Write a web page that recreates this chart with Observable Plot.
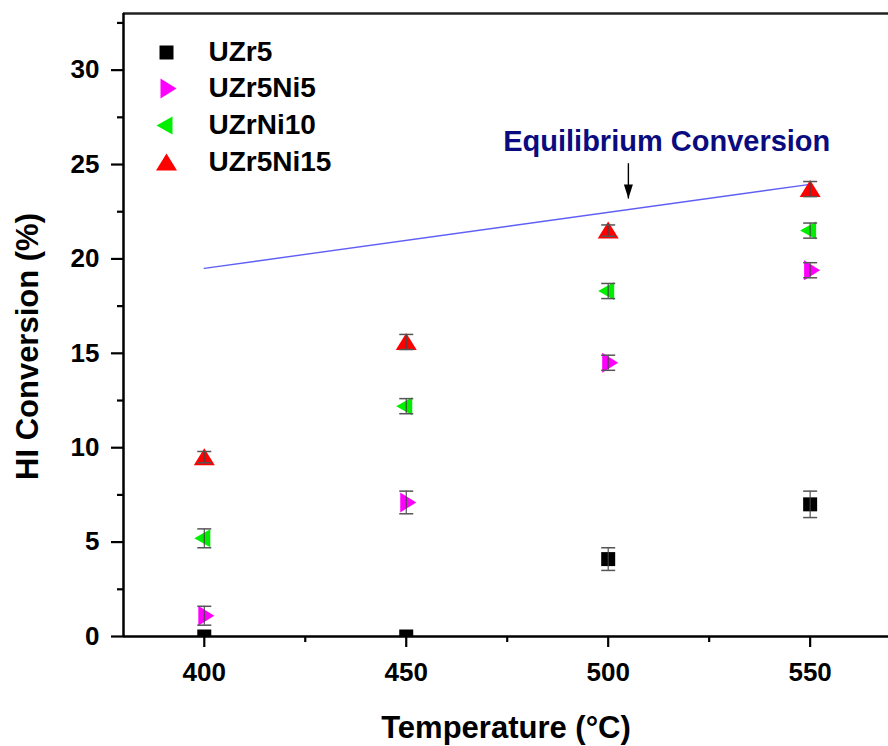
<!DOCTYPE html>
<html>
<head>
<meta charset="utf-8">
<script src="https://cdn.jsdelivr.net/npm/d3@7"></script>
<script src="https://cdn.jsdelivr.net/npm/@observablehq/plot@0.6"></script>
<style>
  html, body { margin: 0; padding: 0; background: white; }
</style>
</head>
<body>
<div id="chart"></div>
<script>
// ---- data ----
const temps = [400, 450, 500, 550];
const seriesNames = ["UZr5", "UZr5Ni5", "UZrNi10", "UZr5Ni15"];
const uzr5 = [0, 0, 4.1, 7.0];
const uzr5Err = [0, 0, 0.6, 0.7];
const uzr5ni5 = [1.1, 7.1, 14.5, 19.4];
const uzr5ni5Err = [0.5, 0.6, 0.4, 0.4];
const uzrni10 = [5.2, 12.2, 18.3, 21.5];
const uzrni10Err = [0.5, 0.4, 0.4, 0.4];
const uzr5ni15 = [9.5, 15.6, 21.5, 23.7];
const uzr5ni15Err = [0.3, 0.4, 0.3, 0.4];
const eqTemps = [400, 550];
const eqValues = [19.5, 23.95];
const eqLabel = "Equilibrium Conversion";
const eqLabelPos = {x: 514.5, y: 25.7};
const eqArrow = {x: 505, y1: 25.07, y2: 23.2};
const xTicks = [400, 450, 500, 550];
const xMinorTicks = [425, 475, 525];
const yTicks = [0, 5, 10, 15, 20, 25, 30];
const yMinorTicks = [2.5, 7.5, 12.5, 17.5, 22.5, 27.5, 32.5];
const xLabel = "Temperature (°C)";
const yLabel = "HI Conversion (%)";

// ---- symbols ----
const sqSym = {draw(c) { c.rect(-7, -7, 14, 14); }};
const rightSym = {draw(c) { c.moveTo(-6, -10); c.lineTo(10, 0); c.lineTo(-6, 10); c.closePath(); }};
const leftSym = {draw(c) { c.moveTo(6, -9); c.lineTo(-10, 0); c.lineTo(6, 9); c.closePath(); }};
const upSym = {draw(c) { c.moveTo(0, -9); c.lineTo(10.5, 8); c.lineTo(-10.5, 8); c.closePath(); }};
const capSym = {draw(c) { c.moveTo(-7, 0); c.lineTo(7, 0); }};
const headSym = {draw(c) { c.moveTo(-4.5, -14); c.lineTo(4.5, -14); c.lineTo(0, 0); c.closePath(); }};

const valuesList = [uzr5, uzr5ni5, uzrni10, uzr5ni15];
const errList = [uzr5Err, uzr5ni5Err, uzrni10Err, uzr5ni15Err];
const symbols = [sqSym, rightSym, leftSym, upSym];
const fills = ["#000000", "#ff00ff", "#00ee00", "#ff0000"];

const series = seriesNames.map((name, i) => ({
  name, symbol: symbols[i], fill: fills[i],
  rows: temps.map((t, j) => ({t, v: valuesList[i][j], e: errList[i][j]}))
}));

const eqRows = eqTemps.map((t, i) => ({t, v: eqValues[i]}));

const marks = [];

// equilibrium line
marks.push(Plot.line(eqRows, {x: "t", y: "v", stroke: "#5f5ff5", strokeWidth: 1.4}));

// series markers
series.forEach((s, i) => {
  marks.push(Plot.dot(s.rows, {x: "t", y: "v", symbol: s.symbol, fill: s.fill, stroke: "none", clip: i === 0}));
});
// error bars
series.forEach((s) => {
  const er = s.rows.filter(d => d.e > 0);
  marks.push(Plot.ruleX(er, {x: "t", y1: d => d.v - d.e, y2: d => d.v + d.e, stroke: "#444", strokeWidth: 1.1}));
  marks.push(Plot.dot(er, {x: "t", y: d => d.v + d.e, symbol: capSym, stroke: "#555", strokeWidth: 1.5}));
  marks.push(Plot.dot(er, {x: "t", y: d => d.v - d.e, symbol: capSym, stroke: "#555", strokeWidth: 1.5}));
});

// annotation
marks.push(Plot.text([eqLabel], {x: () => eqLabelPos.x, y: () => eqLabelPos.y, text: d => d, fill: "#0b0b80",
  fontSize: 29, fontWeight: "bold", textAnchor: "middle", lineAnchor: "bottom"}));
marks.push(Plot.link([eqArrow], {x1: "x", x2: "x", y1: "y1", y2: "y2", stroke: "black", strokeWidth: 1.4}));
marks.push(Plot.dot([eqArrow], {x: "x", y: "y2", symbol: headSym, fill: "black", stroke: "none"}));

// legend
const legendRowsDy = [39, 75, 112, 149];
series.forEach((s, i) => {
  marks.push(Plot.dot([s.name], {frameAnchor: "top-left", dx: 43, dy: legendRowsDy[i], symbol: s.symbol, fill: s.fill, stroke: "none"}));
  marks.push(Plot.text([s.name], {frameAnchor: "top-left", dx: 85, dy: legendRowsDy[i], text: d => d,
    textAnchor: "start", lineAnchor: "middle", fontSize: 28, fontWeight: "bold", fill: "black"}));
});

// axes
marks.push(Plot.axisY({ticks: yTicks, tickSize: 12, tickPadding: 12, fontSize: 26, fontWeight: "bold", label: null, strokeWidth: 2.2, tickFormat: d => String(d)}));
marks.push(Plot.axisY({ticks: yMinorTicks, tickSize: 6, text: null, label: null, strokeWidth: 2.2}));
marks.push(Plot.axisX({ticks: xTicks, tickSize: 11, tickPadding: 15, fontSize: 26, fontWeight: "bold", label: null, strokeWidth: 2.2, tickFormat: d => String(d)}));
marks.push(Plot.axisX({ticks: xMinorTicks, tickSize: 6, text: null, label: null, strokeWidth: 2.2}));

// frame lines
marks.push(Plot.ruleY([0], {stroke: "black", strokeWidth: 2.5}));
marks.push(Plot.ruleY([33], {stroke: "#222", strokeWidth: 2.5}));
marks.push(Plot.ruleX([380], {stroke: "black", strokeWidth: 2.5}));

// axis titles
marks.push(Plot.text([xLabel], {frameAnchor: "bottom", text: d => d, dy: 101, fontSize: 31, fontWeight: "bold",
  textAnchor: "middle", lineAnchor: "bottom", fill: "black"}));
marks.push(Plot.text([yLabel], {frameAnchor: "left", text: d => d, rotate: -90, dx: -86, dy: 21.5, fontSize: 31, fontWeight: "bold",
  textAnchor: "middle", lineAnchor: "bottom", fill: "black"}));

const chart = Plot.plot({
  width: 888,
  height: 746,
  marginLeft: 123,
  marginRight: 0,
  marginTop: 13,
  marginBottom: 110,
  x: {domain: [380, 569.4]},
  y: {domain: [0, 33]},
  style: {fontFamily: "'Liberation Sans', Arial, sans-serif", background: "white", color: "black", overflow: "visible"},
  marks
});
document.getElementById("chart").appendChild(chart);
</script>
</body>
</html>
